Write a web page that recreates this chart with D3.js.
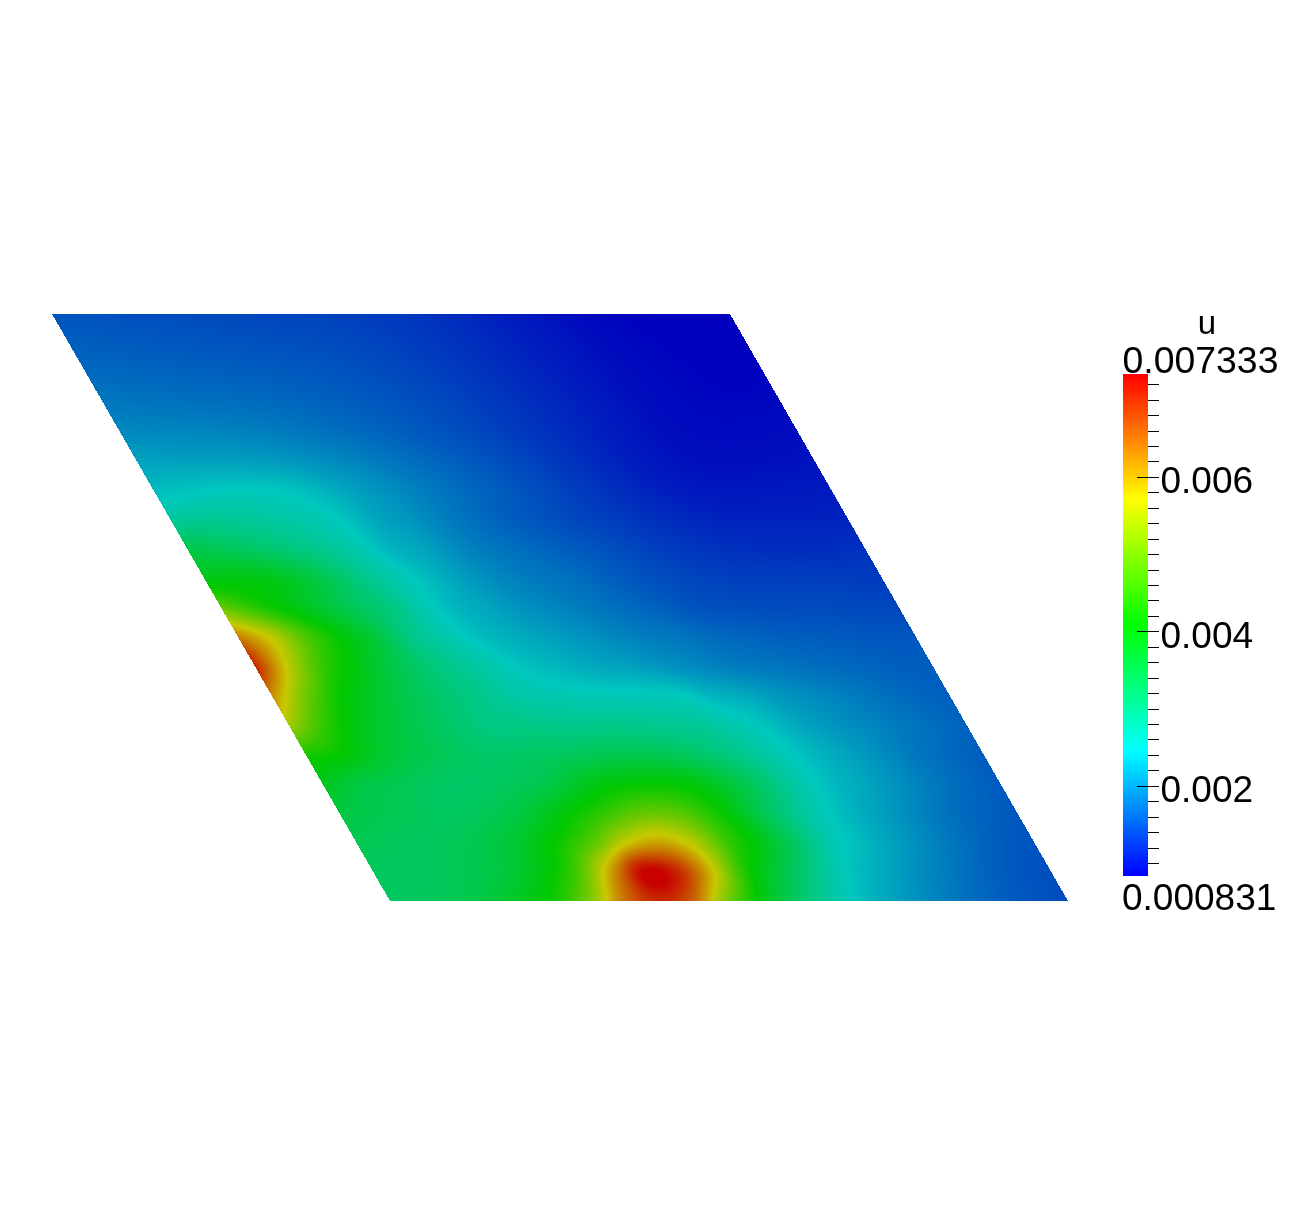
<!DOCTYPE html>
<html><head><meta charset="utf-8">
<script src="https://cdn.jsdelivr.net/npm/d3@7"></script>
<style>html,body{margin:0;padding:0;background:#fff}#w{position:relative;width:1292px;height:1215px;overflow:hidden}canvas,svg{position:absolute;left:0;top:0}</style>
</head><body><div id="w"><canvas id="c" width="1292" height="1215"></canvas><svg id="s" width="1292" height="1215"></svg></div>
<script>
const fieldName = "u";
const valueMin = 0.000831;
const valueMax = 0.007333;
const majorTicks = [0.002, 0.004, 0.006];
const minorTicks = [0.001,0.0012,0.0014,0.0016,0.0018,0.002,0.0022,0.0024,0.0026,0.0028,0.003,0.0032,0.0034,0.0036,0.0038,0.004,0.0042,0.0044,0.0046,0.0048,0.005,0.0052,0.0054,0.0056,0.0058,0.006,0.0062,0.0064,0.0066,0.0068,0.007,0.0072];
const minLabel = "0.000831";
const maxLabel = "0.007333";
// u x 1000, sampled on the rhombus: rows go bottom edge to top edge, columns left side to right side
const fieldRows = [
[3.25,3.3,3.38,3.55,3.85,4.3,5.2,6.5,7.0,6.5,5.0,3.95,3.25,2.7,2.35,2.12,1.92,1.75,1.6,1.52,1.45],
[3.3,3.27,3.32,3.42,3.6,3.95,4.6,6.0,7.33,7.0,5.8,4.3,3.55,2.95,2.45,2.22,2.0,1.82,1.65,1.53,1.46],
[3.38,3.32,3.28,3.35,3.5,3.75,4.2,4.8,5.7,6.0,5.5,4.5,3.85,3.2,2.58,2.32,2.1,1.9,1.72,1.58,1.5],
[3.55,3.42,3.35,3.25,3.3,3.45,3.75,4.15,4.55,4.9,4.8,4.3,3.7,3.1,2.62,2.32,2.12,1.93,1.75,1.62,1.53],
[3.85,3.55,3.42,3.3,3.2,3.25,3.35,3.55,3.9,4.05,4.1,3.95,3.6,3.15,2.65,2.35,2.18,2.0,1.82,1.68,1.56],
[4.3,4.1,3.75,3.5,3.35,3.2,3.2,3.25,3.3,3.4,3.4,3.3,3.1,2.85,2.55,2.32,2.15,1.98,1.8,1.68,1.58],
[5.4,4.5,3.9,3.6,3.35,3.15,2.95,2.95,2.9,2.9,2.9,2.85,2.8,2.62,2.42,2.2,2.05,1.93,1.82,1.72,1.62],
[6.2,5.0,4.15,3.75,3.42,3.15,2.95,2.7,2.6,2.55,2.52,2.5,2.47,2.3,2.2,2.05,1.95,1.85,1.75,1.66,1.6],
[7.0,5.6,4.5,3.95,3.5,3.12,2.85,2.6,2.4,2.3,2.2,2.15,2.05,1.95,1.85,1.8,1.75,1.7,1.65,1.6,1.58],
[6.3,5.6,4.7,4.05,3.6,3.0,2.65,2.4,2.25,2.15,2.05,1.95,1.85,1.8,1.7,1.65,1.6,1.58,1.55,1.53,1.52],
[4.9,4.4,4.0,3.65,3.3,3.0,2.55,2.3,2.15,2.0,1.9,1.8,1.7,1.6,1.5,1.47,1.45,1.44,1.43,1.42,1.4],
[3.9,3.95,3.85,3.6,3.2,2.8,2.5,2.25,2.05,1.9,1.8,1.72,1.6,1.5,1.42,1.36,1.34,1.33,1.33,1.32,1.32],
[3.45,3.35,3.2,3.05,2.85,2.6,2.3,2.15,1.95,1.8,1.7,1.6,1.52,1.42,1.33,1.27,1.22,1.2,1.2,1.2,1.22],
[2.75,2.82,2.8,2.72,2.62,2.45,2.2,2.05,1.88,1.72,1.6,1.5,1.4,1.33,1.24,1.17,1.12,1.1,1.1,1.1,1.12],
[2.35,2.42,2.46,2.46,2.42,2.28,2.12,1.98,1.84,1.71,1.6,1.49,1.38,1.27,1.17,1.08,1.03,1.01,1.02,1.03,1.05],
[2.15,2.14,2.13,2.12,2.09,2.02,1.94,1.84,1.74,1.64,1.54,1.44,1.33,1.22,1.12,1.03,.97,.95,.95,.96,.98],
[1.95,1.93,1.92,1.9,1.87,1.82,1.76,1.69,1.62,1.54,1.46,1.37,1.28,1.19,1.1,1.02,.95,.91,.9,.91,.93],
[1.8,1.78,1.76,1.74,1.72,1.69,1.65,1.6,1.55,1.49,1.42,1.34,1.26,1.17,1.09,1.01,.94,.89,.87,.87,.88],
[1.68,1.67,1.65,1.63,1.61,1.59,1.56,1.53,1.48,1.43,1.37,1.3,1.22,1.14,1.07,.99,.93,.88,.86,.85,.85],
[1.6,1.58,1.56,1.54,1.52,1.5,1.48,1.46,1.43,1.39,1.33,1.27,1.2,1.12,1.05,.98,.91,.87,.85,.84,.84],
[1.52,1.5,1.48,1.46,1.44,1.42,1.4,1.38,1.36,1.33,1.3,1.24,1.17,1.09,1.03,.95,.88,.85,.84,.83,.83]
];
// colour stops of the map, as fractions of the range
const stopFractions = [0, 0.25, 0.5, 0.75, 1];
const barColors = ["#0000ff","#00ffff","#00ff00","#ffff00","#ff0000"];
const shadedColors = ["#0000be","#00c8be","#00c800","#c8c800","#c80000"];

const stopValues = stopFractions.map(d3.scaleLinear([0,1],[valueMin*1000,valueMax*1000]));
const barColor = d3.scaleLinear().domain(stopValues).range(barColors).clamp(true);
const shaded = d3.scaleLinear().domain(stopValues).range(shadedColors).clamp(true);

const sPx = d3.scaleLinear([0,1],[390,1068]);
const skewPx = d3.scaleLinear([0,1],[0,-338]);
const tPx = d3.scaleLinear([0,1],[901,314]);
const barY = d3.scaleLinear([valueMin,valueMax],[876,374]);

const n = fieldRows.length-1, m = fieldRows[0].length-1;
function at(j,i){
  const jj = Math.max(0,Math.min(n,j)), ii = Math.max(0,Math.min(m,i));
  let v = fieldRows[jj][ii];
  if(i<0) v += (fieldRows[jj][0]-fieldRows[jj][1])*(-i);
  if(i>m) v += (fieldRows[jj][m]-fieldRows[jj][m-1])*(i-m);
  if(j<0) v += (fieldRows[0][ii]-fieldRows[1][ii])*(-j);
  if(j>n) v += (fieldRows[n][ii]-fieldRows[n-1][ii])*(j-n);
  return v;
}
function cr(a,b,c,d,x){return b+.5*x*(c-a+x*(2*a-5*b+4*c-d+x*(3*(b-c)+d-a)));}
function sample(s,t){
  const fx=s*m, fy=t*n;
  const i=Math.min(m-1,Math.max(0,Math.floor(fx))), j=Math.min(n-1,Math.max(0,Math.floor(fy)));
  const x=fx-i,y=fy-j, r=[];
  for(let q=-1;q<=2;q++) r.push(cr(at(j+q,i-1),at(j+q,i),at(j+q,i+1),at(j+q,i+2),x));
  return cr(r[0],r[1],r[2],r[3],y);
}
const ctx=document.getElementById('c').getContext('2d');
const img=ctx.createImageData(1292,1215);
const tInv=tPx.invert, sInv=sPx.invert;
for(let y=314;y<901;y++){
  const t=tInv(y+.5);
  for(let x=40;x<1080;x++){
    const s=sInv(x+.5-skewPx(t));
    if(s<0||s>1) continue;
    const c=d3.rgb(shaded(sample(s,t)));
    const k=(y*1292+x)*4;
    img.data[k]=c.r;img.data[k+1]=c.g;img.data[k+2]=c.b;img.data[k+3]=255;
  }
}
ctx.putImageData(img,0,0);

const svg=d3.select('#s');
const defs=svg.append('defs');
const grad=defs.append('linearGradient').attr('id','bar').attr('x1',0).attr('x2',0).attr('y1',1).attr('y2',0);
grad.selectAll('stop').data(stopFractions).join('stop').attr('offset',d=>d).attr('stop-color',(d,i)=>barColors[i]);
svg.append('rect').attr('x',1123).attr('y',barY(valueMax)).attr('width',25).attr('height',barY(valueMin)-barY(valueMax)).attr('fill','url(#bar)');
svg.selectAll('line.minor').data(minorTicks).join('line').attr('class','minor')
  .attr('x1',1148).attr('x2',1159).attr('y1',d=>Math.round(barY(d))+.5).attr('y2',d=>Math.round(barY(d))+.5).attr('stroke','#000');
svg.selectAll('line.major').data(majorTicks).join('line').attr('class','major')
  .attr('x1',1137).attr('x2',1159).attr('y1',d=>Math.round(barY(d))+.5).attr('y2',d=>Math.round(barY(d))+.5).attr('stroke','#000');
const font="'Liberation Sans',Arial,sans-serif";
svg.selectAll('text.major').data(majorTicks).join('text').attr('class','major')
  .attr('x',1160.5).attr('y',d=>barY(d)+16.5).attr('font-family',font).attr('font-size',37).attr('fill','#000')
  .text(d=>d3.format('.3f')(d));
svg.append('text').attr('x',1122.5).attr('y',373).attr('font-family',font).attr('font-size',37.4).text(maxLabel);
svg.append('text').attr('x',1122).attr('y',910).attr('font-family',font).attr('font-size',37).text(minLabel);
svg.append('text').attr('x',1207).attr('y',334).attr('text-anchor','middle').attr('font-family',font).attr('font-size',33).text(fieldName);
</script></body></html>
